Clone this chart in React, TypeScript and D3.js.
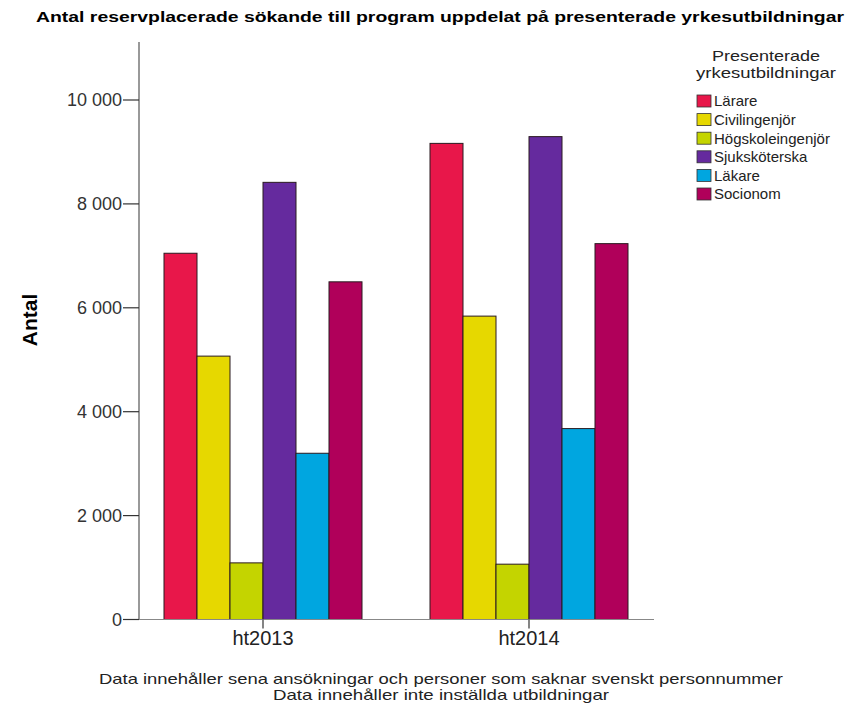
import { useEffect, useRef } from 'react'
import * as d3 from 'd3'

const terms = ['ht2013', 'ht2014']
const programs = ['Lärare', 'Civilingenjör', 'Högskoleingenjör', 'Sjuksköterska', 'Läkare', 'Socionom']
const programColors = ['#e8174a', '#e6d800', '#c4d400', '#652a9e', '#00a6e0', '#b0005a']
const ht2013 = [7050, 5070, 1090, 8415, 3200, 6500]
const ht2014 = [9165, 5840, 1065, 9295, 3675, 7235]
const yTicks = [0, 2000, 4000, 6000, 8000, 10000]
const title = 'Antal reservplacerade sökande till program uppdelat på presenterade yrkesutbildningar'
const footnotes = [
  'Data innehåller sena ansökningar och personer som saknar svenskt personnummer',
  'Data innehåller inte inställda utbildningar'
]
const footnoteWidths = [684, 336]
const legendTitle = ['Presenterade', 'yrkesutbildningar']
const legendTitleWidths = [108, 140]

const W = 851
const H = 707

export default function App() {
  const svgRef = useRef<SVGSVGElement>(null)

  useEffect(() => {
    if (!svgRef.current) return
    const svg = d3.select(svgRef.current)
    svg.selectAll('*').remove()

    const font = 'Arial, "Liberation Sans", sans-serif'
    const axisX = 139
    const baseY = 619.5

    const y = d3.scaleLinear().domain([0, 10000]).range([baseY, 100])
    const x0 = d3.scaleBand().domain(terms).range([130, 662])
    const x1 = d3.scaleBand().domain(programs).range([0, 198])
    const color = d3.scaleOrdinal<string, string>().domain(programs).range(programColors)

    svg.append('rect').attr('width', W).attr('height', H).attr('fill', '#fff')

    // title
    svg.append('text')
      .attr('x', 440).attr('y', 22)
      .attr('text-anchor', 'middle')
      .attr('textLength', 808).attr('lengthAdjust', 'spacingAndGlyphs')
      .style('font-family', font).style('font-size', '15px').style('font-weight', 'bold')
      .text(title)

    // bars
    const series = [ht2013, ht2014]
    terms.forEach((t, ti) => {
      const cx = x0(t)! + x0.bandwidth() / 2
      const g = svg.append('g').attr('transform', `translate(${cx - 99},0)`)
      g.selectAll('rect')
        .data(programs.map((p, i) => ({ p, v: series[ti][i] })))
        .enter().append('rect')
        .attr('x', d => x1(d.p)!)
        .attr('y', d => y(d.v))
        .attr('width', x1.bandwidth())
        .attr('height', d => baseY - y(d.v))
        .attr('fill', d => color(d.p))
        .attr('stroke', '#2a1a20').attr('stroke-width', 1)
    })

    // y axis
    svg.append('line').attr('x1', axisX).attr('x2', axisX).attr('y1', 42).attr('y2', baseY)
      .attr('stroke', '#555').attr('stroke-width', 1.2)
    yTicks.forEach(v => {
      svg.append('line').attr('x1', axisX - 16).attr('x2', axisX).attr('y1', y(v)).attr('y2', y(v))
        .attr('stroke', '#333').attr('stroke-width', 1.2)
      svg.append('text')
        .attr('x', axisX - 17).attr('y', y(v)).attr('dy', '0.36em')
        .attr('text-anchor', 'end')
        .style('font-family', font).style('font-size', '18px').attr('fill', '#333')
        .text(d3.format(',')(v).replace(/,/g, ' '))
    })

    // x axis
    svg.append('line').attr('x1', axisX).attr('x2', 654).attr('y1', baseY).attr('y2', baseY)
      .attr('stroke', '#888').attr('stroke-width', 1.2)
    terms.forEach(t => {
      const cx = x0(t)! + x0.bandwidth() / 2
      svg.append('line').attr('x1', cx).attr('x2', cx).attr('y1', baseY).attr('y2', baseY + 9)
        .attr('stroke', '#333').attr('stroke-width', 1.2)
      svg.append('text')
        .attr('x', cx).attr('y', 645)
        .attr('text-anchor', 'middle')
        .style('font-family', font).style('font-size', '20px').attr('fill', '#222')
        .text(t)
    })

    // y label
    svg.append('text')
      .attr('transform', 'translate(37,320) rotate(-90)')
      .attr('text-anchor', 'middle')
      .style('font-family', font).style('font-size', '21px').style('font-weight', 'bold')
      .text('Antal')

    // footnotes
    footnotes.forEach((f, i) => {
      svg.append('text')
        .attr('x', 441).attr('y', 684 + i * 16)
        .attr('text-anchor', 'middle')
        .attr('textLength', footnoteWidths[i]).attr('lengthAdjust', 'spacingAndGlyphs')
        .style('font-family', font).style('font-size', '15px').attr('fill', '#222')
        .text(f)
    })

    // legend
    const lg = svg.append('g')
    legendTitle.forEach((s, i) => {
      lg.append('text')
        .attr('x', 766).attr('y', 61 + i * 17)
        .attr('text-anchor', 'middle')
        .attr('textLength', legendTitleWidths[i]).attr('lengthAdjust', 'spacingAndGlyphs')
        .style('font-family', font).style('font-size', '15px').attr('fill', '#222')
        .text(s)
    })
    programs.forEach((p, i) => {
      const cy = 101 + i * 18.6
      lg.append('rect')
        .attr('x', 697).attr('y', cy - 6).attr('width', 14).attr('height', 12)
        .attr('fill', color(p)).attr('stroke', '#333').attr('stroke-width', 0.8)
      lg.append('text')
        .attr('x', 714).attr('y', cy).attr('dy', '0.36em')
        .style('font-family', font).style('font-size', '15px').attr('fill', '#222')
        .text(p)
    })
  }, [])

  return (
    <div style={{ position: 'absolute', left: 0, top: 0 }}>
      <svg ref={svgRef} width={W} height={H} style={{ display: 'block' }} />
    </div>
  )
}
